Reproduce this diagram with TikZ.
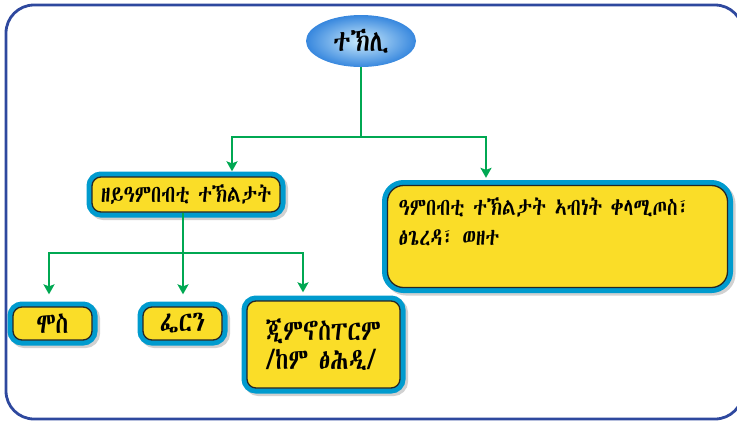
\documentclass[tikz,border=0pt]{standalone}
\usepackage{fontspec}
\usepackage{tikz}
\usetikzlibrary{arrows.meta,positioning,shapes.geometric}
\IfFontExistsTF{Abyssinica SIL}{\newfontfamily\geez[FakeStretch=0.8]{Abyssinica SIL}}{%
  \IfFontExistsTF{FreeSerif}{\newfontfamily\geez[FakeStretch=0.8]{FreeSerif}}{%
    \IfFontExistsTF{Code2000}{\newfontfamily\geez[FakeStretch=0.8]{Code2000}}{\newfontfamily\geez{DejaVu Sans}}}}
\definecolor{jaune}{RGB}{250,221,40}
\definecolor{bleuvif}{RGB}{0,155,206}
\definecolor{vert}{RGB}{0,168,82}
\definecolor{bleucadre}{RGB}{46,72,158}
\definecolor{ciel}{RGB}{205,236,252}
\definecolor{azur}{RGB}{55,135,222}

\begin{document}
\begin{tikzpicture}[x=1pt,y=-1pt,>={Stealth[length=10pt,width=11pt,inset=2pt]},
  boite/.style={draw=black!85,line width=1.3pt,fill=jaune,rounded corners=9pt,inner sep=0pt,
    preaction={draw=black!18,line width=11pt,transform canvas={shift={(2.5pt,-2.5pt)}}},
    preaction={draw=bleuvif,line width=11pt},
    font=\geez\fontsize{29}{29}\selectfont},
  fleche/.style={->,vert,line width=2.2pt}]
  \useasboundingbox (0,0) rectangle (737,421);
  % cadre
  \draw[bleucadre,line width=2.8pt,rounded corners=28pt] (6,5) rectangle (743,419);
  % racine
  \node[ellipse,minimum width=110pt,minimum height=52pt,inner sep=0pt,inner color=ciel,outer color=azur,
    font=\geez\fontsize{30}{30}\selectfont] (tekli) at (361,41) {ተኽሊ};
  % boites
  \node[boite,minimum width=188pt,minimum height=35pt,font=\geez\fontsize{24}{24}\selectfont] (zeyam) at (186,194.5) {ዘይዓምበብቲ ተኽልታት};
  \node[boite,rounded corners=16pt,inner xsep=11pt,inner ysep=12pt,font=\geez\fontsize{24}{30}\selectfont] (ambeb) at (557.5,236.5)
    {\parbox[c][78pt][t]{318pt}{\raggedright ዓምበብቲ ተኽልታት ኣብነት ቀላሚጦስ፣\\ ፅጌረዳ፣ ወዘተ}};
  \node[boite,minimum width=79pt,minimum height=33pt] (mos) at (52.5,323.5) {ሞስ};
  \node[boite,minimum width=79pt,minimum height=33pt] (fern) at (182.5,323.5) {ፌርን};
  \node[boite,minimum width=153pt,minimum height=87pt,align=left] (gymno) at (323.5,344.5) {ጂምኖስፐርም\\/ከም ፅሕዲ/};
  % liaisons
  \coordinate (j1) at (361,137);
  \coordinate (j2) at (183,253);
  \draw[vert,line width=2.2pt] (tekli) -- (j1);
  \draw[fleche,shorten >=5pt] (j1) -| ([xshift=46pt]zeyam.north);
  \draw[fleche,shorten >=7pt] (j1) -| ([xshift=-71.5pt]ambeb.north);
  \draw[vert,line width=2.2pt] (zeyam.south -| j2) -- (j2);
  \draw[fleche,shorten >=12pt] (j2) -| ([xshift=-3.5pt]mos.north);
  \draw[fleche,shorten >=12pt] (j2) -- (j2 |- fern.north);
  \draw[fleche,shorten >=8pt] (j2) -| ([xshift=-20.5pt]gymno.north);
\end{tikzpicture}
\end{document}
